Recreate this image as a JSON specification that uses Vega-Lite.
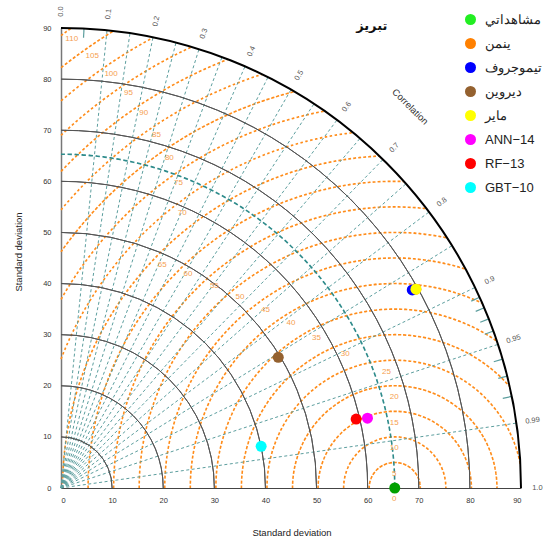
{
  "$schema": "https://vega.github.io/schema/vega-lite/v6.json",
  "width": 460,
  "height": 460,
  "autosize": {"type": "none"},
  "padding": {"left": 61, "top": 28, "right": 28, "bottom": 55},
  "config": {
    "view": {"stroke": null},
    "font": "Liberation Sans",
    "axisX": {"grid": false, "ticks": false, "tickSize": 0, "labelFontSize": 7.5, "labelColor": "#333", "domainColor": "#444", "domainWidth": 1, "labelPadding": 8, "titleFontSize": 9.5, "titleFontWeight": "normal", "titleColor": "#222", "titleX": 230.5, "titleY": 44, "titleBaseline": "middle"},
    "axisY": {"grid": false, "ticks": false, "tickSize": 0, "labelFontSize": 7.5, "labelColor": "#333", "domainColor": "#777", "domainWidth": 1.5, "labelPadding": 10, "titleFontSize": 9.5, "titleFontWeight": "normal", "titleColor": "#222", "titleX": -43, "titleY": 223.5, "titleBaseline": "middle", "titleAlign": "center", "titleAngle": -90},
    "legend": {"symbolType": "circle", "symbolSize": 121, "symbolStrokeWidth": 0, "labelFontSize": 13, "labelFont": "Liberation Sans", "labelColor": "#222", "rowPadding": 10, "labelOffset": 8, "padding": 0}
  },
  "datasets": {
    "rms": [{"rms": 5}, {"rms": 10}, {"rms": 15}, {"rms": 20}, {"rms": 25}, {"rms": 30}, {"rms": 35}, {"rms": 40}, {"rms": 45}, {"rms": 50}, {"rms": 55}, {"rms": 60}, {"rms": 65}, {"rms": 70}, {"rms": 75}, {"rms": 80}, {"rms": 85}, {"rms": 90}, {"rms": 95}, {"rms": 100}, {"rms": 105}, {"rms": 110}]
  },
  "layer": [
    {
      "data": {"name": "rms"},
      "transform": [
        {"calculate": "65.3", "as": "cx"},
        {"calculate": "0", "as": "cy"},
        {"calculate": "datum.rms <= 65.3 ? -PI/2 : atan2(-65.3, sqrt(datum.rms*datum.rms - 65.3*65.3))", "as": "t0"},
        {"calculate": "(8100 + 65.3*65.3 - datum.rms*datum.rms)/(2*65.3)", "as": "xi"},
        {"calculate": "datum.rms + 65.3 <= 90 ? PI/2 : atan2(datum.xi - 65.3, sqrt(8100 - datum.xi*datum.xi))", "as": "t1"}
      ],
      "encoding": {
        "x": {"field": "cx", "type": "quantitative"},
        "y": {"field": "cy", "type": "quantitative"},
        "radius": {"field": "rms", "type": "quantitative", "scale": {"type": "linear", "domain": [0, 90], "range": [0, 460], "zero": true}},
        "radius2": {"field": "rms"},
        "theta": {"field": "t0", "type": "quantitative", "scale": {"type": "linear", "domain": [0, 6.283185307179586], "range": [0, 6.283185307179586], "zero": false}},
        "theta2": {"field": "t1"}
      },
      "layer": [
        {"transform": [{"filter": "datum.rms == 5"}], "mark": {"type": "arc", "filled": false, "stroke": "#FF8C1A", "strokeWidth": 1.6, "strokeDash": [2.5, 2.4397]}},
        {"transform": [{"filter": "datum.rms == 10"}], "mark": {"type": "arc", "filled": false, "stroke": "#FF8C1A", "strokeWidth": 1.6, "strokeDash": [2.5, 2.4788]}},
        {"transform": [{"filter": "datum.rms == 15"}], "mark": {"type": "arc", "filled": false, "stroke": "#FF8C1A", "strokeWidth": 1.6, "strokeDash": [2.5, 2.4918]}},
        {"transform": [{"filter": "datum.rms == 20"}], "mark": {"type": "arc", "filled": false, "stroke": "#FF8C1A", "strokeWidth": 1.6, "strokeDash": [2.5, 2.4983]}},
        {"transform": [{"filter": "datum.rms == 25"}], "mark": {"type": "arc", "filled": false, "stroke": "#FF8C1A", "strokeWidth": 1.6, "strokeDash": [2.5, 2.4917]}},
        {"transform": [{"filter": "datum.rms == 30"}], "mark": {"type": "arc", "filled": false, "stroke": "#FF8C1A", "strokeWidth": 1.6, "strokeDash": [2.5, 2.4931]}},
        {"transform": [{"filter": "datum.rms == 35"}], "mark": {"type": "arc", "filled": false, "stroke": "#FF8C1A", "strokeWidth": 1.6, "strokeDash": [2.5, 2.5129]}},
        {"transform": [{"filter": "datum.rms == 40"}], "mark": {"type": "arc", "filled": false, "stroke": "#FF8C1A", "strokeWidth": 1.6, "strokeDash": [2.5, 2.5039]}},
        {"transform": [{"filter": "datum.rms == 45"}], "mark": {"type": "arc", "filled": false, "stroke": "#FF8C1A", "strokeWidth": 1.6, "strokeDash": [2.5, 2.4951]}},
        {"transform": [{"filter": "datum.rms == 50"}], "mark": {"type": "arc", "filled": false, "stroke": "#FF8C1A", "strokeWidth": 1.6, "strokeDash": [2.5, 2.5036]}},
        {"transform": [{"filter": "datum.rms == 55"}], "mark": {"type": "arc", "filled": false, "stroke": "#FF8C1A", "strokeWidth": 1.6, "strokeDash": [2.5, 2.4961]}},
        {"transform": [{"filter": "datum.rms == 60"}], "mark": {"type": "arc", "filled": false, "stroke": "#FF8C1A", "strokeWidth": 1.6, "strokeDash": [2.5, 2.4969]}},
        {"transform": [{"filter": "datum.rms == 65"}], "mark": {"type": "arc", "filled": false, "stroke": "#FF8C1A", "strokeWidth": 1.6, "strokeDash": [2.5, 2.5037]}},
        {"transform": [{"filter": "datum.rms == 70"}], "mark": {"type": "arc", "filled": false, "stroke": "#FF8C1A", "strokeWidth": 1.6, "strokeDash": [2.5, 2.4946]}},
        {"transform": [{"filter": "datum.rms == 75"}], "mark": {"type": "arc", "filled": false, "stroke": "#FF8C1A", "strokeWidth": 1.6, "strokeDash": [2.5, 2.5098]}},
        {"transform": [{"filter": "datum.rms == 80"}], "mark": {"type": "arc", "filled": false, "stroke": "#FF8C1A", "strokeWidth": 1.6, "strokeDash": [2.5, 2.5108]}},
        {"transform": [{"filter": "datum.rms == 85"}], "mark": {"type": "arc", "filled": false, "stroke": "#FF8C1A", "strokeWidth": 1.6, "strokeDash": [2.5, 2.4902]}},
        {"transform": [{"filter": "datum.rms == 90"}], "mark": {"type": "arc", "filled": false, "stroke": "#FF8C1A", "strokeWidth": 1.6, "strokeDash": [2.5, 2.5303]}},
        {"transform": [{"filter": "datum.rms == 95"}], "mark": {"type": "arc", "filled": false, "stroke": "#FF8C1A", "strokeWidth": 1.6, "strokeDash": [2.5, 2.4917]}},
        {"transform": [{"filter": "datum.rms == 100"}], "mark": {"type": "arc", "filled": false, "stroke": "#FF8C1A", "strokeWidth": 1.6, "strokeDash": [2.5, 2.5505]}},
        {"transform": [{"filter": "datum.rms == 105"}], "mark": {"type": "arc", "filled": false, "stroke": "#FF8C1A", "strokeWidth": 1.6, "strokeDash": [2.5, 2.5008]}},
        {"transform": [{"filter": "datum.rms == 110"}], "mark": {"type": "arc", "filled": false, "stroke": "#FF8C1A", "strokeWidth": 1.6, "strokeDash": [2.5, 2.116]}}
      ]
    },
    {
      "data": {"values": [{"cor": 0.1}, {"cor": 0.15}, {"cor": 0.2}, {"cor": 0.25}, {"cor": 0.3}, {"cor": 0.35}, {"cor": 0.4}, {"cor": 0.45}, {"cor": 0.5}, {"cor": 0.55}, {"cor": 0.6}, {"cor": 0.65}, {"cor": 0.7}, {"cor": 0.75}, {"cor": 0.8}, {"cor": 0.85}, {"cor": 0.9}, {"cor": 0.95}, {"cor": 0.99}]},
      "transform": [
        {"calculate": "0", "as": "sx"},
        {"calculate": "0", "as": "sy"},
        {"calculate": "90*datum.cor", "as": "ex"},
        {"calculate": "90*sqrt(1 - datum.cor*datum.cor)", "as": "ey"}
      ],
      "mark": {"type": "rule", "stroke": "#5C9E9E", "strokeWidth": 1, "strokeDash": [3, 2.5]},
      "encoding": {
        "x": {"field": "sx", "type": "quantitative"},
        "y": {"field": "sy", "type": "quantitative"},
        "x2": {"field": "ex"},
        "y2": {"field": "ey"}
      }
    },
    {
      "data": {"values": [{"cor": 0.05}, {"cor": 0.91}, {"cor": 0.92}, {"cor": 0.93}, {"cor": 0.94}, {"cor": 0.96}, {"cor": 0.97}, {"cor": 0.98}]},
      "transform": [
        {"calculate": "88.2*datum.cor", "as": "sx"},
        {"calculate": "88.2*sqrt(1 - datum.cor*datum.cor)", "as": "sy"},
        {"calculate": "90*datum.cor", "as": "ex"},
        {"calculate": "90*sqrt(1 - datum.cor*datum.cor)", "as": "ey"}
      ],
      "mark": {"type": "rule", "stroke": "#5C9E9E", "strokeWidth": 1.2},
      "encoding": {
        "x": {"field": "sx", "type": "quantitative"},
        "y": {"field": "sy", "type": "quantitative"},
        "x2": {"field": "ex"},
        "y2": {"field": "ey"}
      }
    },
    {
      "data": {"values": [{"sd": 10}, {"sd": 20}, {"sd": 30}, {"sd": 40}, {"sd": 50}, {"sd": 60}, {"sd": 70}, {"sd": 80}]},
      "transform": [
        {"calculate": "0", "as": "cx"},
        {"calculate": "0", "as": "cy"},
        {"calculate": "0", "as": "t0"},
        {"calculate": "PI/2", "as": "t1"}
      ],
      "mark": {"type": "arc", "filled": false, "stroke": "#555555", "strokeWidth": 1},
      "encoding": {
        "x": {"field": "cx", "type": "quantitative"},
        "y": {"field": "cy", "type": "quantitative"},
        "radius": {"field": "sd", "type": "quantitative"},
        "radius2": {"field": "sd"},
        "theta": {"field": "t0", "type": "quantitative"},
        "theta2": {"field": "t1"}
      }
    },
    {
      "data": {"values": [{"sd": 65.3}]},
      "transform": [
        {"calculate": "0", "as": "cx"},
        {"calculate": "0", "as": "cy"},
        {"calculate": "0", "as": "t0"},
        {"calculate": "PI/2", "as": "t1"}
      ],
      "mark": {"type": "arc", "filled": false, "stroke": "#2E8B8B", "strokeWidth": 1.6, "strokeDash": [4, 3.0103]},
      "encoding": {
        "x": {"field": "cx", "type": "quantitative"},
        "y": {"field": "cy", "type": "quantitative"},
        "radius": {"field": "sd", "type": "quantitative"},
        "radius2": {"field": "sd"},
        "theta": {"field": "t0", "type": "quantitative"},
        "theta2": {"field": "t1"}
      }
    },
    {
      "data": {"values": [{"sd": 90}]},
      "transform": [
        {"calculate": "0", "as": "cx"},
        {"calculate": "0", "as": "cy"},
        {"calculate": "0", "as": "t0"},
        {"calculate": "PI/2", "as": "t1"}
      ],
      "mark": {"type": "arc", "filled": false, "stroke": "#000000", "strokeWidth": 2},
      "encoding": {
        "x": {"field": "cx", "type": "quantitative"},
        "y": {"field": "cy", "type": "quantitative"},
        "radius": {"field": "sd", "type": "quantitative"},
        "radius2": {"field": "sd"},
        "theta": {"field": "t0", "type": "quantitative"},
        "theta2": {"field": "t1"}
      }
    },
    {
      "data": {"values": [{"cor": 0, "label": "0.0"}, {"cor": 0.1, "label": "0.1"}, {"cor": 0.2, "label": "0.2"}, {"cor": 0.3, "label": "0.3"}, {"cor": 0.4, "label": "0.4"}, {"cor": 0.5, "label": "0.5"}, {"cor": 0.6, "label": "0.6"}, {"cor": 0.7, "label": "0.7"}, {"cor": 0.8, "label": "0.8"}, {"cor": 0.9, "label": "0.9"}, {"cor": 0.95, "label": "0.95"}, {"cor": 0.99, "label": "0.99"}, {"cor": 1, "label": "1.0"}]},
      "transform": [
        {"calculate": "93.2*datum.cor", "as": "lx"},
        {"calculate": "93.2*sqrt(1 - datum.cor*datum.cor)", "as": "ly"},
        {"calculate": "-acos(datum.cor)*180/PI", "as": "ang"}
      ],
      "mark": {"type": "text", "fontSize": 7.5, "color": "#555", "align": "center", "baseline": "middle"},
      "encoding": {
        "x": {"field": "lx", "type": "quantitative"},
        "y": {"field": "ly", "type": "quantitative"},
        "angle": {"field": "ang", "type": "quantitative", "scale": {"type": "linear", "domain": [-90, 0], "range": [-90, 0], "zero": false}},
        "text": {"field": "label"}
      }
    },
    {
      "data": {"values": [
        {"rms": "0", "lx": 65.2, "ly": -2.2},
        {"rms": "5", "lx": 65.2, "ly": 2.74},
        {"rms": "10", "lx": 65.2, "ly": 7.86},
        {"rms": "15", "lx": 65.2, "ly": 12.76},
        {"rms": "20", "lx": 65.2, "ly": 17.75},
        {"rms": "25", "lx": 63.7, "ly": 22.76},
        {"rms": "30", "lx": 55.6, "ly": 26.2},
        {"rms": "35", "lx": 50.0, "ly": 29.3},
        {"rms": "40", "lx": 45.0, "ly": 32.2},
        {"rms": "45", "lx": 40.0, "ly": 34.8},
        {"rms": "50", "lx": 35.0, "ly": 37.4},
        {"rms": "55", "lx": 30.0, "ly": 39.5},
        {"rms": "60", "lx": 24.85, "ly": 41.8},
        {"rms": "65", "lx": 19.8, "ly": 43.6},
        {"rms": "70", "lx": 23.7, "ly": 53.9},
        {"rms": "75", "lx": 23.0, "ly": 59.7},
        {"rms": "80", "lx": 21.2, "ly": 64.6},
        {"rms": "85", "lx": 18.7, "ly": 69.1},
        {"rms": "90", "lx": 16.2, "ly": 73.3},
        {"rms": "95", "lx": 13.2, "ly": 77.2},
        {"rms": "100", "lx": 9.8, "ly": 81.0},
        {"rms": "105", "lx": 6.1, "ly": 84.6},
        {"rms": "110", "lx": 2.1, "ly": 87.9}
      ]},
      "mark": {"type": "text", "fontSize": 8, "color": "#F5A050", "align": "center", "baseline": "middle"},
      "encoding": {
        "x": {"field": "lx", "type": "quantitative"},
        "y": {"field": "ly", "type": "quantitative"},
        "text": {"field": "rms"}
      }
    },
    {
      "data": {"values": [{"label": "Correlation", "lx": 68.3, "ly": 74.6}]},
      "mark": {"type": "text", "fontSize": 9.5, "color": "#333", "align": "center", "baseline": "middle", "angle": 45},
      "encoding": {
        "x": {"field": "lx", "type": "quantitative"},
        "y": {"field": "ly", "type": "quantitative"},
        "text": {"field": "label"}
      }
    },
    {
      "data": {"values": [{"label": "تبريز", "lx": 60.8, "ly": 90.4}]},
      "mark": {"type": "text", "fontSize": 13, "fontWeight": "bold", "color": "#111", "align": "center", "baseline": "middle", "font": "DejaVu Sans"},
      "encoding": {
        "x": {"field": "lx", "type": "quantitative"},
        "y": {"field": "ly", "type": "quantitative"},
        "text": {"field": "label"}
      }
    },
    {
      "data": {"values": [{"model": "مشاهداتي", "sd": 65.3, "cor": 1}]},
      "transform": [
        {"calculate": "datum.sd*datum.cor", "as": "px"},
        {"calculate": "datum.sd*sqrt(1 - datum.cor*datum.cor)", "as": "py"}
      ],
      "mark": {"type": "point", "filled": true, "opacity": 1, "size": 121, "shape": "circle", "color": "#00A000"},
      "encoding": {
        "x": {"field": "px", "type": "quantitative"},
        "y": {"field": "py", "type": "quantitative"}
      }
    },
    {
      "data": {"values": [
        {"model": "ينمن", "sd": 79.6, "cor": 0.8724},
        {"model": "تيموجروف", "sd": 78.9, "cor": 0.871},
        {"model": "ديروين", "sd": 49.6, "cor": 0.857},
        {"model": "ماير", "sd": 79.6, "cor": 0.8724},
        {"model": "ANN−14", "sd": 61.5, "cor": 0.975},
        {"model": "RF−13", "sd": 59.3, "cor": 0.9738},
        {"model": "GBT−10", "sd": 40.0, "cor": 0.979}
      ]},
      "transform": [
        {"calculate": "datum.sd*datum.cor", "as": "px"},
        {"calculate": "datum.sd*sqrt(1 - datum.cor*datum.cor)", "as": "py"}
      ],
      "mark": {"type": "point", "filled": true, "opacity": 1, "size": 121, "shape": "circle"},
      "encoding": {
        "x": {"field": "px", "type": "quantitative", "scale": {"domain": [0, 90], "nice": false, "zero": false}, "axis": {"title": "Standard deviation", "values": [0,10,20,30,40,50,60,70,80,90]}},
        "y": {"field": "py", "type": "quantitative", "scale": {"domain": [0, 90], "nice": false, "zero": false}, "axis": {"title": "Standard deviation", "values": [0,10,20,30,40,50,60,70,80,90]}},
        "color": {"field": "model", "type": "nominal", "sort": null,
          "legend": {"title": null, "orient": "none", "legendX": 403, "legendY": -15},
          "scale": {"domain": ["مشاهداتي", "ينمن", "تيموجروف", "ديروين", "ماير", "ANN−14", "RF−13", "GBT−10"],
                    "range": ["#22EE22", "#FF8000", "#0000FF", "#94612F", "#FFFF00", "#FF00FF", "#FF0000", "#00FFFF"]}}
      }
    }
  ]
}
